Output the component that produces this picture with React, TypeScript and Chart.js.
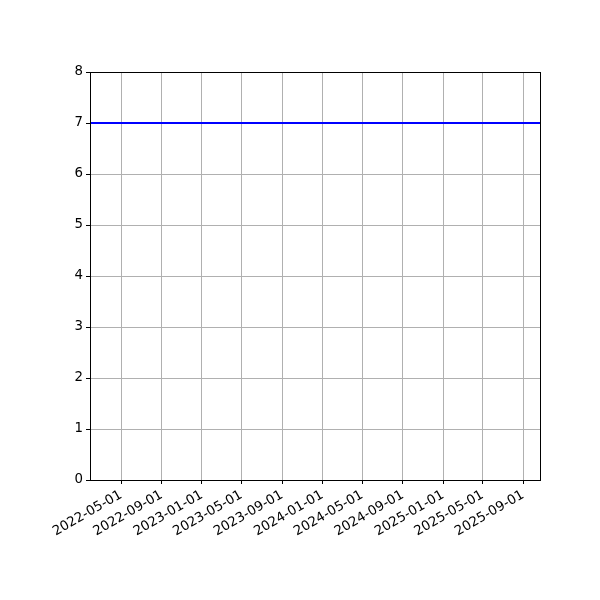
import { useEffect, useRef } from "react";
import { Chart, registerables } from "chart.js";

Chart.register(...registerables);

// series: one flat value across the date range
const dates = ["2022-01-27", "2025-10-22"];
const values = [7, 7];

// x tick labels (first day of month, every 4 months)
const tickDates = [
  "2022-05-01", "2022-09-01", "2023-01-01", "2023-05-01", "2023-09-01",
  "2024-01-01", "2024-05-01", "2024-09-01", "2025-01-01", "2025-05-01", "2025-09-01",
];
const yTicks = [0, 1, 2, 3, 4, 5, 6, 7, 8];

const toMs = (d: string) => Date.parse(d + "T00:00:00Z");
const fmt = (ms: number) => new Date(ms).toISOString().slice(0, 10);

const frame = {
  id: "frame",
  afterDraw(chart: any) {
    const { ctx, chartArea: a } = chart;
    ctx.save();
    ctx.strokeStyle = "#000";
    ctx.lineWidth = 1;
    ctx.strokeRect(Math.round(a.left) + 0.5, Math.round(a.top) + 0.5, Math.round(a.right - a.left), Math.round(a.bottom - a.top));
    ctx.restore();
  },
};

export default function App() {
  const ref = useRef<HTMLCanvasElement>(null);

  useEffect(() => {
    document.body.style.margin = "0";
    if (!ref.current) return;
    const chart = new Chart(ref.current, {
      type: "line",
      data: {
        datasets: [
          {
            data: dates.map((d, i) => ({ x: toMs(d), y: values[i] })),
            borderColor: "#0000ff",
            borderWidth: 2,
            pointRadius: 0,
            fill: false,
          },
        ],
      },
      options: {
        animation: false,
        responsive: false,
        layout: { padding: { left: 0, top: 72, right: 60, bottom: 0 } },
        plugins: { legend: { display: false }, tooltip: { enabled: false } },
        font: { family: "DejaVu Sans", size: 13.33 },
        scales: {
          x: {
            type: "linear",
            min: toMs(dates[0]),
            max: toMs(dates[dates.length - 1]),
            afterBuildTicks: (s: any) => {
              s.ticks = tickDates.map((d) => ({ value: toMs(d) }));
            },
            afterFit: (s: any) => {
              s.height = 120;
            },
            border: { display: false },
            grid: { color: "#b0b0b0", lineWidth: 1, tickColor: "#000", tickLength: 4 },
            ticks: {
              color: "#000",
              font: { family: "DejaVu Sans", size: 13.33 },
              minRotation: 30,
              maxRotation: 30,
              autoSkip: false,
              padding: 3,
              callback: (v: any) => fmt(Number(v)),
            },
          },
          y: {
            min: 0,
            max: 8,
            afterBuildTicks: (s: any) => {
              s.ticks = yTicks.map((v) => ({ value: v }));
            },
            afterFit: (s: any) => {
              s.width = 90;
            },
            border: { display: false },
            grid: { color: "#b0b0b0", lineWidth: 1, tickColor: "#000", tickLength: 4 },
            ticks: {
              color: "#000",
              font: { family: "DejaVu Sans", size: 13.33 },
              padding: 3,
            },
          },
        },
      },
      plugins: [frame],
    });
    return () => chart.destroy();
  }, []);

  return <canvas ref={ref} width={600} height={600} style={{ width: 600, height: 600, display: "block" }} />;
}
